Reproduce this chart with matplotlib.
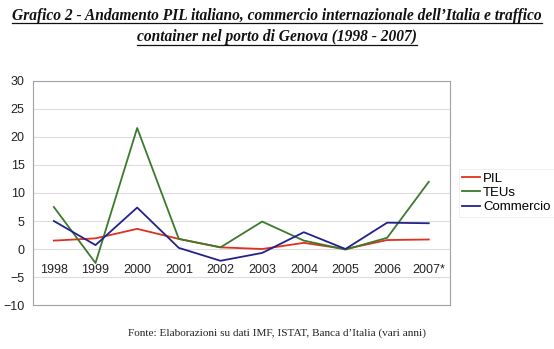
import matplotlib
matplotlib.use("Agg")
import matplotlib.pyplot as plt
from matplotlib.lines import Line2D

years = ["1998", "1999", "2000", "2001", "2002", "2003", "2004", "2005", "2006", "2007*"]
pil = [1.5, 1.9, 3.6, 1.8, 0.3, 0.0, 1.1, 0.0, 1.6, 1.7]
teus = [7.5, -2.5, 21.6, 1.8, 0.3, 4.9, 1.5, -0.1, 2.0, 12.0]
commercio = [5.0, 0.7, 7.4, 0.2, -2.1, -0.7, 3.0, 0.0, 4.7, 4.6]

fig = plt.figure(figsize=(5.54, 3.49), dpi=100)
ax = fig.add_axes([0.0596, 0.126, 0.752, 0.642])

x = range(len(years))
ax.plot(x, pil, color="#e0301e", lw=1.3, label="PIL")
ax.plot(x, teus, color="#3c7a2c", lw=1.3, label="TEUs")
ax.plot(x, commercio, color="#22228a", lw=1.3, label="Commercio")

ax.set_xlim(-0.5, len(years) - 0.5)
ax.set_ylim(-10, 30)
ax.set_yticks(range(-10, 31, 5))
ax.yaxis.grid(True, color="#dcdcdc", lw=0.8)
ax.set_axisbelow(True)
ax.set_xticks([])
for i, lab in enumerate(years):
    ax.text(i, -2.7, lab, ha="center", va="top", fontsize=9,
            family="Liberation Sans", color="#222222")
for s in ax.spines.values():
    s.set_color("#a0a0a8")
    s.set_linewidth(0.8)
ax.tick_params(axis="y", length=0, pad=6, labelsize=9, labelcolor="#222222")
for t in ax.get_yticklabels():
    t.set_family("Liberation Sans")

leg = ax.legend(loc="center left", bbox_to_anchor=(1.015, 0.5), frameon=True,
                prop={"family": "Liberation Sans", "size": 9.5},
                handlelength=1.3, handletextpad=0.25, labelspacing=0.15,
                borderpad=0.3, borderaxespad=0.2, fancybox=False)
leg.get_frame().set_edgecolor("#e8e8e8")
leg.get_frame().set_linewidth(0.6)

titles = [
    "Grafico 2 - Andamento PIL italiano, commercio internazionale dell\u2019Italia e traffico",
    "container nel porto di Genova (1998 - 2007)",
]
tys = [0.955, 0.893]
fig.canvas.draw()
r = fig.canvas.get_renderer()
for t, ty in zip(titles, tys):
    txt = fig.text(0.5, ty, t, ha="center", va="center", fontsize=11.2,
                   family="Liberation Serif", weight="bold", style="italic",
                   color="#111111")
    bb = txt.get_window_extent(renderer=r)
    x0, x1 = bb.x0 / fig.bbox.width, bb.x1 / fig.bbox.width
    yl = (bb.y0 + 0.5) / fig.bbox.height
    fig.add_artist(Line2D([x0, x1], [yl, yl], color="#111111", lw=0.9,
                          transform=fig.transFigure))

fig.text(0.5, 0.046, "Fonte: Elaborazioni su dati IMF, ISTAT, Banca d\u2019Italia (vari anni)",
         ha="center", va="center", fontsize=8.1, family="Liberation Serif",
         color="#222222")

fig.savefig("out.png", dpi=100)
